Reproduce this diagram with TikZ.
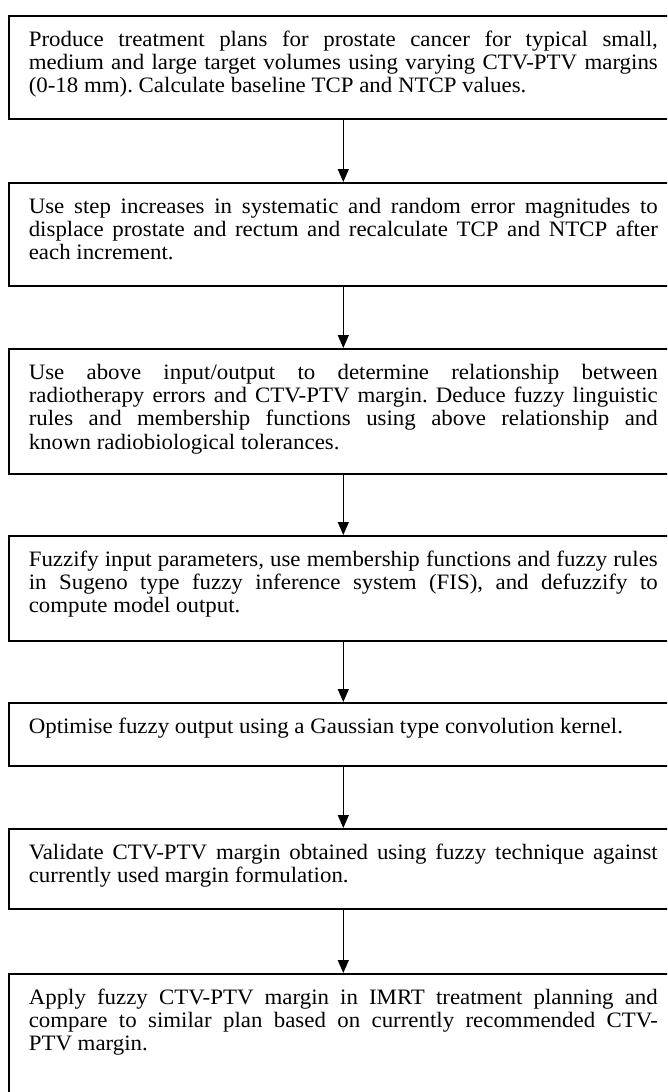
\documentclass[tikz,border=0pt]{standalone}
\usepackage{fontspec}
\setmainfont{Liberation Serif}[FakeStretch=1.04]
\usetikzlibrary{arrows.meta}
\newcommand\flowtext[2]{\parbox[t][#1][t]{629pt}{\fontsize{22pt}{23.3pt}\selectfont\frenchspacing\tolerance=10000\hyphenpenalty=10000\rule{0pt}{30.5pt}#2}}
\tikzset{
  stepbox/.style={draw, line width=1.6pt, inner xsep=20pt, inner ysep=0pt, anchor=north west},
  arr/.style={line width=1.3pt, -{Triangle[width=11pt,length=13pt]}}
}
\begin{document}
\begin{tikzpicture}[x=1pt,y=-1pt]
\useasboundingbox (0,0) rectangle (667,1092);
\clip (0,0) rectangle (667,1092);
\node[stepbox] (b1) at (8,15) {\flowtext{103pt}{Produce treatment plans for prostate cancer for typical small, \linebreak medium and large target volumes using varying CTV-PTV margins \linebreak (0-18 mm). Calculate baseline TCP and NTCP values.}};
\node[stepbox] (b2) at (8,182) {\flowtext{103pt}{Use step increases in systematic and random error magnitudes to \linebreak displace prostate and rectum and recalculate TCP and NTCP after \linebreak each increment.}};
\node[stepbox] (b3) at (8,348) {\flowtext{125pt}{Use above input/output to determine relationship between \linebreak radiotherapy errors and CTV-PTV margin. Deduce fuzzy linguistic \linebreak rules and membership functions using above relationship and \linebreak known radiobiological tolerances.}};
\node[stepbox] (b4) at (8,535) {\flowtext{105pt}{Fuzzify input parameters, use membership functions and fuzzy rules \linebreak in Sugeno type fuzzy inference system (FIS), and defuzzify to \linebreak compute model output.}};
\node[stepbox] (b5) at (8,702) {\flowtext{63pt}{Optimise fuzzy output using a Gaussian type convolution kernel.}};
\node[stepbox] (b6) at (8,828) {\flowtext{80pt}{Validate CTV-PTV margin obtained using fuzzy technique against \linebreak currently used margin formulation.}};
\node[stepbox] (b7) at (8,973) {\flowtext{140pt}{Apply fuzzy CTV-PTV margin in IMRT treatment planning and \linebreak compare to similar plan based on currently recommended CTV-\linebreak PTV margin.}};
\draw[arr] (b1.south) -- (b2.north);
\draw[arr] (b2.south) -- (b3.north);
\draw[arr] (b3.south) -- (b4.north);
\draw[arr] (b4.south) -- (b5.north);
\draw[arr] (b5.south) -- (b6.north);
\draw[arr] (b6.south) -- (b7.north);
\end{tikzpicture}
\end{document}
